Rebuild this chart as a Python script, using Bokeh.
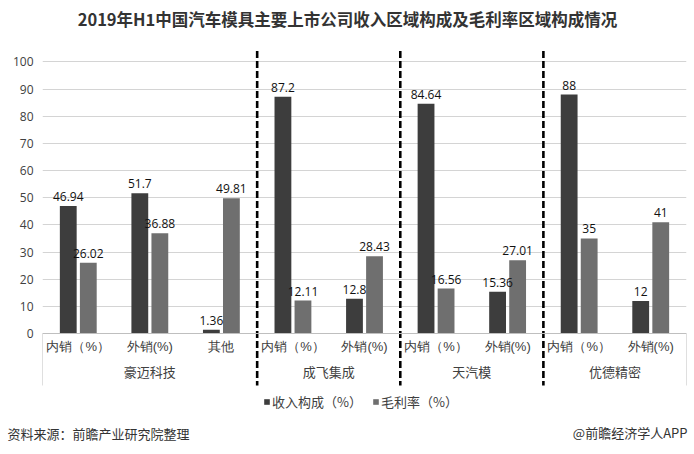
from bokeh.plotting import figure
from bokeh.models import (ColumnDataSource, FactorRange, FixedTicker, Label, Legend,
                          LegendItem, Range1d)
from bokeh.transform import dodge
from bokeh.core.properties import value
from bokeh.embed import file_html
from bokeh.resources import INLINE

# ---------------- data ----------------
companies = ["豪迈科技", "成飞集成", "天汽模", "优德精密"]
sub_labels = [
    ["内销（%）", "外销(%)", "其他"],
    ["内销（%）", "外销(%)"],
    ["内销（%）", "外销(%)"],
    ["内销（%）", "外销(%)"],
]
revenue_share = [46.94, 51.7, 1.36, 87.2, 12.8, 84.64, 15.36, 88, 12]
gross_margin = [26.02, 36.88, 49.81, 12.11, 28.43, 16.56, 27.01, 35, 41]
y_ticks = [0, 10, 20, 30, 40, 50, 60, 70, 80, 90, 100]
series_names = ["收入构成（%）", "毛利率（%）"]

title_text = "2019年H1中国汽车模具主要上市公司收入区域构成及毛利率区域构成情况"
source_text = "资料来源：前瞻产业研究院整理"
credit_text = "@前瞻经济学人APP"

# ---------------- styles ----------------
CJK = "Noto Sans CJK SC"
NUM = "Open Sans"
DARK = "#3d3d3d"
LIGHT = "#6f6f6f"
TXT = "#404040"

factors = [(c, s) for c, subs in zip(companies, sub_labels) for s in subs]
counts = [len(s) for s in sub_labels]
bounds = []
acc = 0
for n in counts[:-1]:
    acc += n
    bounds.append(acc)

src = ColumnDataSource(dict(x=factors, rev=revenue_share, mar=gross_margin,
                            rev_t=[f"{v:g}" for v in revenue_share],
                            mar_t=[f"{v:g}" for v in gross_margin]))

W, H = 694, 454
LEFT_BORDER = 42
RIGHT_BORDER = 8
BOTTOM_BORDER = 39
Y_TOP = 122.65
Y_BOT = -30.2
SEP_TOP = 104.05
SEP_BOT = -19.15

x_range = FactorRange(*factors, factor_padding=0, group_padding=0, subgroup_padding=0,
                      range_padding=0)
p = figure(x_range=x_range, y_range=Range1d(Y_BOT, Y_TOP), width=W, height=H,
           output_backend="svg", toolbar_location=None, title=None,
           min_border_left=LEFT_BORDER, min_border_right=RIGHT_BORDER, min_border_top=0,
           min_border_bottom=BOTTOM_BORDER, outline_line_color=None,
           background_fill_color="white", border_fill_color="white")

# grid
p.xgrid.grid_line_color = None
p.ygrid.grid_line_color = "#d4d4d4"
p.ygrid.grid_line_width = 1

# y axis
p.yaxis.ticker = FixedTicker(ticks=y_ticks)
p.yaxis.axis_line_color = None
p.yaxis.major_tick_line_color = None
p.yaxis.minor_tick_line_color = None
p.yaxis.major_tick_out = 0
p.yaxis.major_label_standoff = 9
p.yaxis.major_label_text_font = NUM
p.yaxis.major_label_text_font_size = "12px"
p.yaxis.major_label_text_color = TXT

# x axis at zero
xa = p.xaxis[0]
xa.fixed_location = 0
xa.axis_line_color = "#bfbfbf"
xa.major_tick_line_color = None
xa.major_tick_in = 0
xa.major_tick_out = 0
xa.minor_tick_line_color = None
xa.major_label_standoff = 5
xa.major_label_text_font = "Liberation Sans"
xa.major_label_text_font_size = "13px"
xa.major_label_text_color = TXT
xa.group_text_font = CJK
xa.group_text_font_size = "13px"
xa.group_text_font_style = "normal"
xa.group_text_color = TXT
xa.separator_line_alpha = 0

# bars
r1 = p.vbar(x=dodge("x", -0.14, range=p.x_range), top="rev", width=0.235, source=src,
            fill_color=DARK, line_color=None)
r2 = p.vbar(x=dodge("x", 0.14, range=p.x_range), top="mar", width=0.235, source=src,
            fill_color=LIGHT, line_color=None)

p.text(x=dodge("x", -0.14, range=p.x_range), y="rev", text="rev_t", source=src,
       text_align="center", text_baseline="bottom", y_offset=-5,
       text_font=value(NUM), text_font_size="12px", text_color="#111111")
p.text(x=dodge("x", 0.14, range=p.x_range), y="mar", text="mar_t", source=src,
       text_align="center", text_baseline="bottom", y_offset=-5,
       text_font=value(NUM), text_font_size="12px", text_color="#111111")

# group separators (dashed) and edges
p.segment(x0=bounds, y0=[SEP_TOP] * len(bounds), x1=bounds, y1=[SEP_BOT] * len(bounds),
          line_color="black", line_width=2.6, line_dash="7 3")
edges = [0, sum(counts)]
p.segment(x0=edges, y0=[0, 0], x1=edges, y1=[SEP_BOT, SEP_BOT],
          line_color="#bfbfbf", line_width=1)

# legend
legend = Legend(items=[LegendItem(label=series_names[0], renderers=[r1]),
                       LegendItem(label=series_names[1], renderers=[r2])],
                orientation="horizontal", location=(221, 4),
                glyph_width=7, glyph_height=7, label_standoff=2, spacing=10,
                label_height=16, padding=0, margin=0,
                border_line_color=None, background_fill_alpha=0,
                label_text_font=CJK, label_text_font_size="13px", label_text_color=TXT)
p.add_layout(legend, "center")

# title (inside the frame area, above the plot)
frame_h = H - BOTTOM_BORDER
p.add_layout(Label(x=347 - LEFT_BORDER, y=frame_h - 18, x_units="screen", y_units="screen",
                   text=title_text, text_align="center", text_baseline="middle",
                   text_font=CJK, text_font_size="16.5px", text_font_style="bold",
                   text_color="#333333"))
# footer
p.add_layout(Label(x=7 - LEFT_BORDER, y=1, x_units="screen", y_units="screen",
                   text=source_text, text_align="left", text_baseline="middle",
                   text_font=CJK, text_font_size="13px", text_color="#333333"), "below")
p.add_layout(Label(x=687 - LEFT_BORDER, y=21, x_units="screen", y_units="screen",
                   text=credit_text, text_align="right", text_baseline="middle",
                   text_font=CJK, text_font_size="13px", text_color="#333333"), "below")

open("out.html", "w").write(file_html(p, INLINE))
